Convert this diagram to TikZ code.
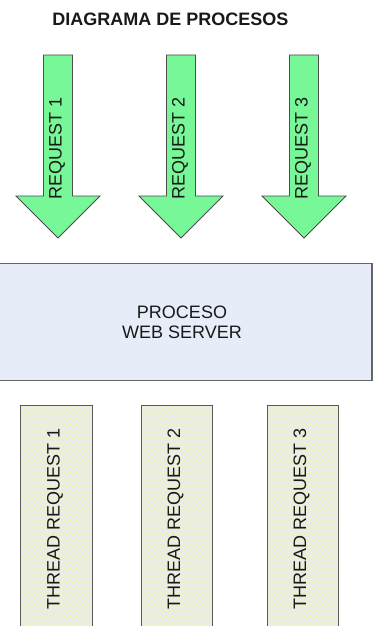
\documentclass[tikz,border=0pt]{standalone}
\usepackage{fontspec}
\setmainfont{Liberation Sans}
\usetikzlibrary{patterns}
% small checker texture for the thread boxes
\pgfdeclarepatternformonly{smallchecks}{\pgfpointorigin}{\pgfqpoint{6pt}{6pt}}{\pgfqpoint{6pt}{6pt}}{%
  \pgfpathrectangle{\pgfpointorigin}{\pgfqpoint{3pt}{3pt}}%
  \pgfpathrectangle{\pgfqpoint{3pt}{3pt}}{\pgfqpoint{3pt}{3pt}}%
  \pgfusepath{fill}}
\begin{document}
\begin{tikzpicture}[x=1pt,y=-1pt,
  label text/.style={font=\fontsize{18}{21}\selectfont, inner sep=0pt, text=black!90},
  reqarrow/.style={fill=reqgreen, draw=black!70, line width=0.8pt, line join=miter},
  serverbox/.style={fill=serverblue, draw=black!60, line width=1.2pt},
  threadbox/.style={draw=black!65, line width=1pt}
]
\definecolor{reqgreen}{HTML}{77F797}
\definecolor{serverblue}{HTML}{E6ECF8}
\definecolor{threadbase}{HTML}{E8ECEC}
\definecolor{threadcheck}{HTML}{F2F2BE}
\useasboundingbox (0,0) rectangle (377,626);
\clip (0,0) rectangle (377,626);

% title
\node[label text, font=\fontsize{18}{21}\selectfont\bfseries] (title) at (170.5,19) {DIAGRAMA DE PROCESOS};

% incoming request arrows
\foreach \c/\n in {58/1,181/2,304/3}{
  \draw[reqarrow] (\c-14.5,55) -- (\c+14.5,55) -- (\c+14.5,196) -- (\c+42,196)
     -- (\c,238) -- (\c-42,196) -- (\c-14.5,196) -- cycle;
  \node[label text, rotate=90] (req\n) at (\c-1,148.5) {REQUEST \n};
}

% web server process
\draw[serverbox] (-5,263.5) rectangle (372,380.5);
\node[label text, align=center, font=\fontsize{18}{20}\selectfont] (server) at (182,322) {PROCESO\\WEB SERVER};

% worker threads
\foreach \l/\r/\n in {20/92/1,141/212/2,267/338/3}{
  \fill[threadbase] (\l,405.5) rectangle (\r,645);
  \fill[pattern=smallchecks, pattern color=threadcheck] (\l,405.5) rectangle (\r,645);
  \draw[threadbox] (\l,405.5) rectangle (\r,645);
  \node[label text, rotate=90] (thread\n) at ({(\l+\r)/2-1},518.5) {THREAD REQUEST \n};
}
\end{tikzpicture}
\end{document}
